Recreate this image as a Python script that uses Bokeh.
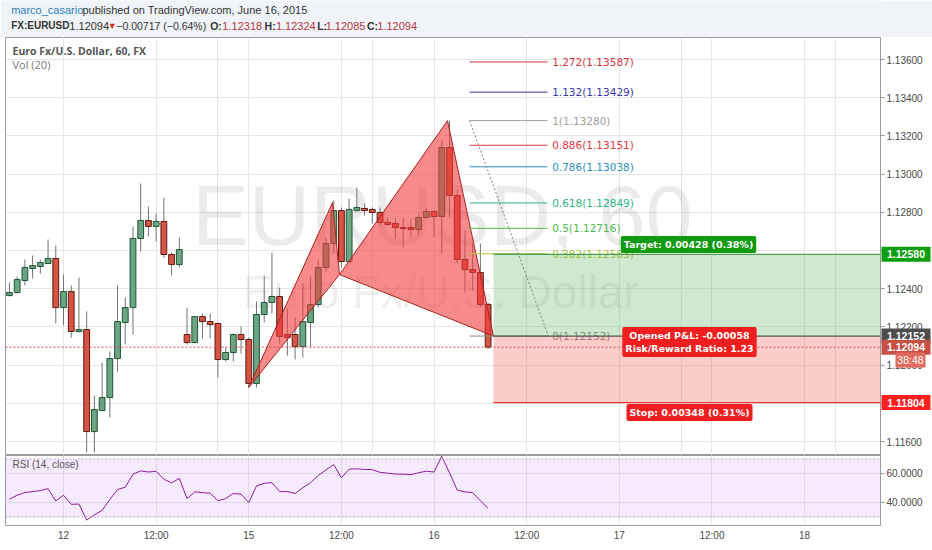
from bokeh.plotting import figure
from bokeh.layouts import column, row
from bokeh.models import Range1d, FixedTicker, Grid, Label, NumeralTickFormatter, Span, ColumnDataSource
from bokeh.core.properties import value
from bokeh.embed import file_html
from bokeh.resources import INLINE

# ---------------- data ----------------
bar = list(range(-7, 56))   # hourly bar index, 0 = 12 Jun 00:00 (weekend skipped)
opens = [1.12364, 1.12380, 1.12443, 1.12506, 1.12516, 1.12532, 1.12558, 1.12301, 1.12385, 1.12176,
         1.12186, 1.11652, 1.11762, 1.11830, 1.12034, 1.12223, 1.12301, 1.12663, 1.12757, 1.12726,
         1.12752, 1.12579, 1.12527, 1.12160, 1.12118, 1.12254, 1.12228, 1.12218, 1.12029, 1.12066,
         1.12160, 1.12134, 1.11904, 1.12265, 1.12328, 1.12359, 1.12160, 1.12160, 1.12097, 1.12223,
         1.12317, 1.12511, 1.12637, 1.12809, 1.12542, 1.12809, 1.12820, 1.12815, 1.12799, 1.12747,
         1.12741, 1.12720, 1.12720, 1.12710, 1.12773, 1.12804, 1.12778, 1.13139, 1.12888, 1.12553,
         1.12500, 1.12485, 1.12318]
highs = [1.12432, 1.12464, 1.12553, 1.12574, 1.12553, 1.12658, 1.12626, 1.12474, 1.12417, 1.12459,
         1.12281, 1.11841, 1.12013, 1.12071, 1.12417, 1.12354, 1.12726, 1.12951, 1.12830, 1.12794,
         1.12877, 1.12589, 1.12668, 1.12301, 1.12254, 1.12270, 1.12270, 1.12223, 1.12092, 1.12165,
         1.12202, 1.12144, 1.12333, 1.12469, 1.12589, 1.12406, 1.12296, 1.12249, 1.12427, 1.12464,
         1.12553, 1.12668, 1.12862, 1.12825, 1.12872, 1.12930, 1.12846, 1.12825, 1.12825, 1.12773,
         1.12767, 1.12773, 1.12767, 1.12794, 1.12820, 1.12809, 1.13176, 1.13280, 1.12914, 1.12705,
         1.12637, 1.12637, 1.12324]
lows = [1.12359, 1.12375, 1.12417, 1.12453, 1.12479, 1.12532, 1.12218, 1.12207, 1.12144, 1.12170,
        1.11542, 1.11542, 1.11762, 1.11726, 1.11966, 1.12108, 1.12160, 1.12595, 1.12673, 1.12647,
        1.12563, 1.12469, 1.12511, 1.12108, 1.12113, 1.12139, 1.12139, 1.11935, 1.12019, 1.12019,
        1.12061, 1.11883, 1.11883, 1.12223, 1.12270, 1.12113, 1.12050, 1.12029, 1.12040, 1.12092,
        1.12301, 1.12485, 1.12584, 1.12511, 1.12537, 1.12804, 1.12783, 1.12741, 1.12731, 1.12731,
        1.12663, 1.12616, 1.12668, 1.12678, 1.12767, 1.12668, 1.12584, 1.12773, 1.12532, 1.12380,
        1.12390, 1.12301, 1.12085]
closes = [1.12380, 1.12448, 1.12511, 1.12521, 1.12537, 1.12558, 1.12301, 1.12385, 1.12176, 1.12186,
          1.11652, 1.11767, 1.11830, 1.12034, 1.12228, 1.12301, 1.12663, 1.12757, 1.12726, 1.12752,
          1.12579, 1.12527, 1.12605, 1.12118, 1.12254, 1.12228, 1.12212, 1.12029, 1.12066, 1.12160,
          1.12134, 1.11904, 1.12265, 1.12328, 1.12359, 1.12150, 1.12144, 1.12097, 1.12228, 1.12317,
          1.12511, 1.12637, 1.12809, 1.12542, 1.12815, 1.12825, 1.12809, 1.12799, 1.12747, 1.12736,
          1.12720, 1.12715, 1.12710, 1.12773, 1.12804, 1.12778, 1.13139, 1.12888, 1.12553, 1.12500,
          1.12485, 1.12317, 1.12094]
rsi = [42.3, 45.0, 46.8, 47.5, 48.2, 49.5, 41.0, 45.0, 38.7, 38.9,
       27.8, 31.5, 34.5, 42.0, 49.0, 50.5, 59.5, 61.8, 61.0, 61.5,
       56.0, 53.5, 56.6, 42.7, 47.3, 46.8, 46.4, 41.2, 42.7, 46.2,
       45.7, 40.0, 51.4, 53.2, 53.6, 47.5, 47.5, 46.2, 50.2, 53.6,
       58.6, 62.5, 66.1, 57.0, 63.0, 63.2, 62.8, 62.6, 60.8, 60.2,
       59.6, 59.5, 59.2, 60.5, 61.6, 61.0, 71.8, 60.5, 48.5, 47.3,
       46.8, 41.2, 35.9]

tick_pos = [0, 12, 24, 36, 48, 60, 72, 84, 96]
tick_labels = ["12", "12:00", "15", "12:00", "16", "12:00", "17", "12:00", "18"]
price_ticks = [1.116, 1.118, 1.120, 1.122, 1.124, 1.126, 1.128, 1.130, 1.132, 1.134, 1.136]
rsi_ticks = [40, 60]

# harmonic pattern points X, A, B, C, D
pattern_x = [24.0, 34.85, 35.75, 49.74, 55.7]
pattern_y = [1.11883, 1.12851, 1.12474, 1.13280, 1.12152]

# fibonacci retracement
fib_x = [52.6, 62.7]
fib_labels = ["1.272(1.13587)", "1.132(1.13429)", "1(1.13280)", "0.886(1.13151)", "0.786(1.13038)",
              "0.618(1.12849)", "0.5(1.12716)", "0.382(1.12583)", "0(1.12152)"]
fib_price = [1.13587, 1.13429, 1.13280, 1.13151, 1.13038, 1.12849, 1.12716, 1.12583, 1.12152]
fib_colors = ["#d9363e", "#3a3aa8", "#9e9e9e", "#e0393e", "#2b8fc0", "#2bb48c", "#4cbb4c", "#a5c83a", "#8a8a8a"]

# long position tool
pos_start = 55.7
entry, target, stop = 1.12152, 1.12580, 1.11804
last_close = 1.12094

# price-scale badges
badge_text = ["1.12580", "1.12152", "1.12094", "1.11804"]
badge_price = [target, entry, last_close, stop]
badge_color = ["#0d9e0d", "#4d4d4d", "#c84f43", "#ff1f1f"]
countdown = "38:48"

# ---------------- geometry helpers (reference pixel -> data) ----------------
PXB = 7.72          # pixels per bar
X0 = 63.0           # pixel x of bar 0
FRAME_L, FRAME_R = 5, 880
W = 932
AXW = W - FRAME_R
def bx(xref):
    return (xref - X0) / PXB
def py(yref):
    return 1.136 - (yref - 59) * 0.002 / 38.2

x_range = Range1d(bx(FRAME_L), bx(FRAME_R))
FONT = "Liberation Sans"

# ---------------- header ----------------
h = figure(width=W, height=37, x_range=Range1d(0, W), y_range=Range1d(37, 0),
           min_border=0, toolbar_location=None, output_backend="svg",
           x_axis_location=None, y_axis_location=None,
           background_fill_color="#f0f3f7", border_fill_color="#f0f3f7", outline_line_color=None)
h.grid.visible = False
def htext(x, y, s, color="#333333", bold=False, size="11px"):
    h.text(x=[x], y=[y], text=[s], text_font=value(FONT), text_font_size=size,
           text_color=color, text_baseline="middle", text_align="left",
           text_font_style="bold" if bold else "normal")
htext(6, 9, "marco_casario", "#2a7fb8")
htext(82, 9, "published on TradingView.com, June 16, 2015")
htext(6, 25, "FX:EURUSD", bold=True, size="10px")
htext(68, 25, "1.12094")
htext(109, 25, "▼", "#e0301e", size="9px")
htext(118, 25, "\u22120.00717 (\u22120.64%)", size="10.5px")
htext(218, 25, "O:", bold=True, size="10.5px")
htext(231, 25, "1.12318", "#b8363f")
htext(276, 25, "H:", bold=True, size="10.5px")
htext(288, 25, "1.12324", "#b8363f")
htext(332, 25, "L:", bold=True, size="10.5px")
htext(341, 25, "1.12085", "#b8363f")
htext(385, 25, "C:", bold=True, size="10.5px")
htext(396, 25, "1.12094", "#b8363f")

# ---------------- main price panel ----------------
p = figure(width=W, height=418, x_range=x_range, y_range=Range1d(py(455), py(37)),
           min_border_left=FRAME_L, min_border_right=AXW, min_border_top=0, min_border_bottom=0,
           x_axis_location=None, y_axis_location="right", toolbar_location=None,
           output_backend="svg", outline_line_color="#9a9a9a")
p.ygrid.ticker = FixedTicker(ticks=price_ticks)
p.ygrid.grid_line_color = "#e6e6e6"
p.add_layout(Grid(dimension=0, ticker=FixedTicker(ticks=tick_pos), grid_line_color="#e6e6e6"))
ax = p.yaxis[0]
ax.ticker = FixedTicker(ticks=price_ticks)
ax.formatter = NumeralTickFormatter(format="0.00000")
ax.major_label_text_font = FONT
ax.major_label_text_font_size = "10px"
ax.major_label_text_color = "#4a4a4a"
ax.axis_line_color = "#9a9a9a"
ax.major_tick_line_color = "#9a9a9a"
ax.major_tick_in = 0
ax.major_tick_out = 4
ax.minor_tick_line_color = None
ax.major_label_standoff = 2

# watermark
p.text(x=[bx(442)], y=[py(215)], text=["EURUSD, 60"], text_font=value(FONT), text_font_size="85px",
       text_color="#000000", text_alpha=0.08, text_align="center", text_baseline="middle")
p.text(x=[bx(440)], y=[py(291)], text=["Euro Fx/U.S. Dollar"], text_font=value(FONT), text_font_size="46px",
       text_color="#000000", text_alpha=0.08, text_align="center", text_baseline="middle")

# candles
up = [i for i in range(len(bar)) if closes[i] >= opens[i]]
dn = [i for i in range(len(bar)) if closes[i] < opens[i]]
src = ColumnDataSource(dict(x=bar, high=highs, low=lows))
p.segment(x0="x", y0="low", x1="x", y1="high", source=src, line_color="#737375", line_width=1)
p.vbar(x=[bar[i] for i in up], width=0.75, top=[closes[i] for i in up], bottom=[opens[i] for i in up],
       fill_color="#6ba583", line_color="#225437", line_width=1)
p.vbar(x=[bar[i] for i in dn], width=0.75, top=[opens[i] for i in dn], bottom=[closes[i] for i in dn],
       fill_color="#d75442", line_color="#5b1a13", line_width=1)

# harmonic pattern
p.patches(xs=[pattern_x[0:3], pattern_x[2:5]], ys=[pattern_y[0:3], pattern_y[2:5]],
          fill_color="#f23c3c", fill_alpha=0.6, line_color="#b0201c", line_width=1)

# fibonacci
p.segment(x0=[fib_x[0]] * len(fib_price), x1=[fib_x[1]] * len(fib_price), y0=fib_price, y1=fib_price,
          line_color=fib_colors, line_width=1)
p.segment(x0=[fib_x[0]], y0=[fib_price[2]], x1=[fib_x[1] + 0.1], y1=[fib_price[8]],
          line_color="#808080", line_dash="2 2", line_width=1)
p.text(x=[fib_x[1] + 0.6] * len(fib_price), y=fib_price, text=fib_labels, text_color=fib_colors,
       text_font=value("DejaVu Sans"), text_font_size="10.5px", text_baseline="middle", text_align="left")

# position tool
xr_end = x_range.end + 1
p.quad(left=[pos_start], right=[xr_end], bottom=[entry], top=[target], fill_color="#4caf50",
       fill_alpha=0.27, line_color=None)
p.quad(left=[pos_start], right=[xr_end], bottom=[stop], top=[entry], fill_color="#f44336",
       fill_alpha=0.27, line_color=None)
p.segment(x0=[pos_start] * 3, x1=[xr_end] * 3, y0=[target, entry, stop], y1=[target, entry, stop],
          line_color=["#4f9e4f", "#555555", "#e53935"], line_width=1.3)

p.add_layout(Span(location=last_close, dimension="width", line_color="#d9534f",
                  line_dash="2 2", line_width=1))

# legend texts
p.add_layout(Label(x=bx(12), y=py(50), text="Euro Fx/U.S. Dollar, 60, FX", text_font="Open Sans",
                   text_font_size="10.5px", text_font_style="bold", text_color="#555555",
                   text_baseline="middle"))
p.add_layout(Label(x=bx(12), y=py(64), text="Vol (20)", text_font="Open Sans",
                   text_font_size="11px", text_color="#777777", text_baseline="middle"))

# position labels
def boxlabel(x, y, s, bg):
    p.add_layout(Label(x=x, y=y, text=s, text_font="DejaVu Sans", text_font_size="9.5px",
                       text_font_style="bold", text_color="white", text_align="center",
                       text_baseline="middle", background_fill_color=bg, padding=3,
                       border_radius=2))
boxlabel(bx(688), py(244), "Target: 0.00428 (0.38%)", "#0f9a0f")
boxlabel(bx(689), py(341.5), "Opened P&L: -0.00058\nRisk/Reward Ratio: 1.23", "#f01e1e")
boxlabel(bx(689), py(412), "Stop: 0.00348 (0.31%)", "#f01e1e")

# ---------------- price-scale badge overlay (sits over the right axis) ----------------
ov = figure(width=AXW, height=418, x_range=Range1d(0, AXW), y_range=p.y_range,
            min_border=0, toolbar_location=None, output_backend="svg",
            x_axis_location=None, y_axis_location=None, outline_line_color=None,
            background_fill_alpha=0, border_fill_alpha=0)
ov.grid.visible = False
ov.margin = (0, 0, 0, -AXW)
ov.rect(x=[25.5] * len(badge_price), y=badge_price, width=49, height=15,
        width_units="screen", height_units="screen", fill_color=badge_color, line_color=None)
ov.text(x=[25.5] * len(badge_price), y=badge_price, text=badge_text, text_color="white",
        text_font=value(FONT), text_font_size="10.5px", text_font_style="bold",
        text_align="center", text_baseline="middle")
ov.rect(x=[30], y=[py(359.5)], width=30, height=15, width_units="screen", height_units="screen",
        fill_color="#e06a5c", line_color=None)
ov.text(x=[30], y=[py(359.5)], text=[countdown], text_color="white", text_font=value(FONT),
        text_font_size="10.5px", text_align="center", text_baseline="middle")

# ---------------- RSI panel ----------------
r = figure(width=W, height=95, x_range=x_range, y_range=Range1d(24.1, 72.4),
           min_border_left=FRAME_L, min_border_right=AXW, min_border_top=0, min_border_bottom=25,
           y_axis_location="right", toolbar_location=None, output_backend="svg",
           outline_line_color="#9a9a9a")
r.xgrid.ticker = FixedTicker(ticks=tick_pos)
r.ygrid.ticker = FixedTicker(ticks=rsi_ticks)
r.grid.grid_line_color = "#e6e6e6"
r.quad(left=[x_range.start - 1], right=[x_range.end + 1], bottom=[30], top=[70],
       fill_color="#9915ff", fill_alpha=0.09, line_color=None)
for lv in (30, 70):
    r.add_layout(Span(location=lv, dimension="width", line_color="#b7a4c4", line_dash="2 2", line_width=1))
r.line(bar, rsi, line_color="#8e1e9b", line_width=1)
r.add_layout(Label(x=bx(12), y=66, text="RSI (14, close)", text_font=FONT, text_font_size="10px",
                   text_color="#555555", text_baseline="middle"))
ra = r.yaxis[0]
ra.ticker = FixedTicker(ticks=rsi_ticks)
ra.formatter = NumeralTickFormatter(format="0.0000")
xa = r.xaxis[0]
xa.ticker = FixedTicker(ticks=tick_pos)
xa.major_label_overrides = {t: l for t, l in zip(tick_pos, tick_labels)}
for a in (ra, xa):
    a.major_label_text_font = FONT
    a.major_label_text_font_size = "10px"
    a.major_label_text_color = "#4a4a4a"
    a.axis_line_color = "#9a9a9a"
    a.major_tick_line_color = "#9a9a9a"
    a.major_tick_in = 0
    a.minor_tick_line_color = None
ra.major_tick_out = 4
ra.major_label_standoff = 2
xa.major_tick_out = 0
xa.major_label_standoff = 4
xa.axis_line_color = None

layout = column(h, row(p, ov, spacing=0), r, spacing=0)
open("out.html", "w").write(file_html(layout, INLINE))
